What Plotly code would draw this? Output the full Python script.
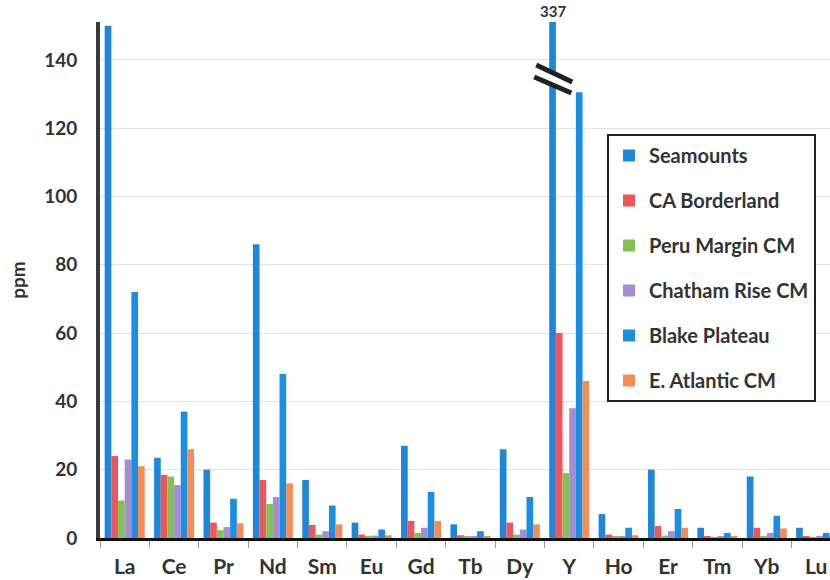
import plotly.graph_objects as go

# Rare earth element concentrations (ppm) by deposit region
elements = ["La", "Ce", "Pr", "Nd", "Sm", "Eu", "Gd", "Tb", "Dy", "Y", "Ho", "Er", "Tm", "Yb", "Lu"]
seamounts = [150, 23.5, 20, 86, 17, 4.5, 27, 4, 26, 337, 7, 20, 3, 18, 3]
ca_borderland = [24, 18.5, 4.5, 17, 3.8, 1, 5, 0.8, 4.5, 60, 1, 3.5, 0.5, 3, 0.5]
peru_margin = [11, 18, 2.3, 10, 1, 0.5, 1.5, 0.3, 1, 19, 0.4, 0.7, 0.2, 0.6, 0.2]
chatham_rise = [23, 15.5, 3.2, 12, 2, 0.7, 3, 0.5, 2.5, 38, 0.6, 2, 0.3, 1.5, 0.3]
blake_plateau = [72, 37, 11.5, 48, 9.5, 2.5, 13.5, 2, 12, 130.5, 3, 8.5, 1.5, 6.5, 1.5]
e_atlantic = [21, 26, 4.3, 16, 4, 0.8, 5, 0.6, 4, 46, 0.8, 3, 0.5, 2.8, 0.4]

series = [
    ("Seamounts", seamounts, "#1f87da"),
    ("CA Borderland", ca_borderland, "#f0555a"),
    ("Peru Margin CM", peru_margin, "#84c155"),
    ("Chatham Rise CM", chatham_rise, "#a68dd2"),
    ("Blake Plateau", blake_plateau, "#1a8fe2"),
    ("E. Atlantic CM", e_atlantic, "#f58c52"),
]

Y_MAX = 151.1
BARGAP = 0.19
FONT = "Lato"
TXT = "#333333"

fig = go.Figure()
for name, vals, color in series:
    fig.add_bar(
        x=elements, y=vals, name=name, legendgroup=name,
        marker=dict(color=color, line=dict(width=0)),
    )

# Position of the Seamounts bar in the Y group (value runs past the axis top)
n = len(series)
slot = (1 - BARGAP) / n
iy = elements.index("Y")
cx = iy - (1 - BARGAP) / 2 + slot / 2
y_val = seamounts[iy]

# Axis-break symbol across the clipped bar
top_a, top_b = (cx - 0.33, 138.5), (cx + 0.40, 133.5)
bot_a, bot_b = (cx - 0.37, 135.0), (cx + 0.38, 130.3)
fig.add_shape(
    type="path", xref="x", yref="y", layer="above",
    path=f"M{top_a[0]},{top_a[1]} L{top_b[0]},{top_b[1]} L{bot_b[0]},{bot_b[1]} L{bot_a[0]},{bot_a[1]} Z",
    fillcolor="white", line=dict(width=0),
)
for a, b in ((top_a, top_b), (bot_a, bot_b)):
    fig.add_shape(type="line", xref="x", yref="y", layer="above",
                  x0=a[0], y0=a[1], x1=b[0], y1=b[1],
                  line=dict(color="#222222", width=5))

fig.add_annotation(
    x=cx, y=1, xref="x", yref="paper", yanchor="bottom", showarrow=False,
    text=f"{y_val:g}", font=dict(family=FONT, size=15, color=TXT, weight="bold"),
)

fig.update_layout(
    width=830, height=580,
    margin=dict(l=100, r=0, t=22, b=42),
    paper_bgcolor="white", plot_bgcolor="white",
    barmode="group", bargap=BARGAP, bargroupgap=0,
    font=dict(family=FONT, color=TXT),
    showlegend=True,
    legend=dict(
        x=(607 - 100) / 730, xanchor="left",
        y=(538 - 134) / 516, yanchor="top",
        bgcolor="white", bordercolor="#222222", borderwidth=2,
        font=dict(family=FONT, size=20, color=TXT, weight="bold"),
        tracegroupgap=16, itemwidth=30,
    ),
    xaxis=dict(
        type="category", range=[-0.5, 14.28],
        showline=True, linecolor="#111111", linewidth=3,
        ticks="outside", tickson="boundaries", ticklen=7, tickcolor="#9a9a9a", tickwidth=1,
        tickfont=dict(family=FONT, size=21, color=TXT, weight="bold"),
        ticklabelstandoff=8, showgrid=False,
    ),
    yaxis=dict(
        range=[0, Y_MAX], tick0=0, dtick=20,
        showgrid=True, gridcolor="#e2e2e2", gridwidth=1, zeroline=False,
        showline=True, linecolor="#3a3a3a", linewidth=4,
        ticks="", ticklabelstandoff=15,
        tickfont=dict(family=FONT, size=19, color=TXT, weight="bold"),
        title=dict(text="ppm", standoff=14,
                   font=dict(family=FONT, size=19, color=TXT, weight="bold")),
    ),
)

fig.write_html("out.html")
